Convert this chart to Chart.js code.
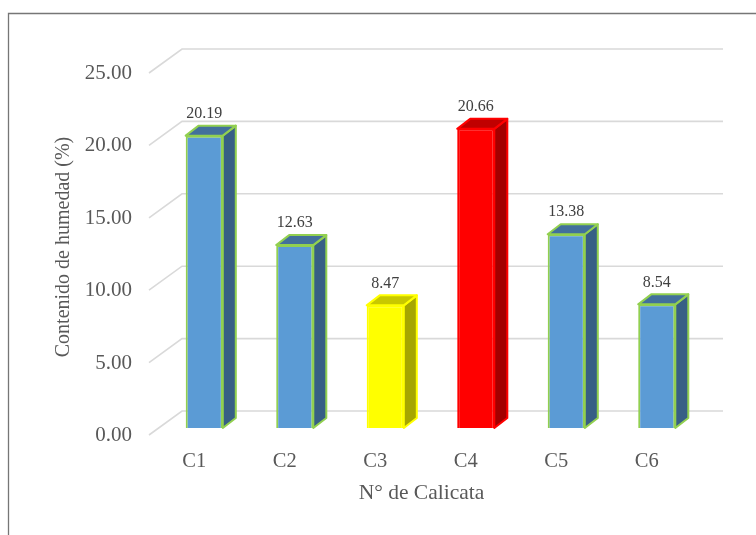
<!DOCTYPE html>
<html>
<head>
<meta charset="utf-8">
<script src="https://cdn.jsdelivr.net/npm/chart.js@4.4.1/dist/chart.umd.min.js"></script>
<style>
  html, body { margin: 0; padding: 0; background: #fff; }
  canvas { display: block; }
</style>
</head>
<body>
<canvas id="humChart" width="756" height="535"></canvas>
<script>
// Contenido de humedad por calicata
const categories = ['C1', 'C2', 'C3', 'C4', 'C5', 'C6'];
const humedad = [20.19, 12.63, 8.47, 20.66, 13.38, 8.54];

const yTicks = { min: 0, max: 25, step: 5 };

// front / side / top / outline colours per bar
const frontColors = ['#5B9BD5', '#5B9BD5', '#FFFF00', '#FF0000', '#5B9BD5', '#5B9BD5'];
const sideColors = ['#375F85', '#375F85', '#A6A600', '#A30000', '#375F85', '#375F85'];
const topColors = ['#42709C', '#42709C', '#C8C800', '#C00000', '#42709C', '#42709C'];
const edgeColors = ['#92D050', '#92D050', '#FFFF00', '#FF0000', '#92D050', '#92D050'];

const DX = 13, DY = 10; // bar depth

const serif = '"Liberation Serif", "Times New Roman", serif';
const grey = '#595959';
const xTitle = 'N° de Calicata';

// outer frame (top and left edge only) + x axis title
const framePlugin = {
  id: 'frame',
  afterDraw(chart) {
    const ctx = chart.ctx;
    const area = chart.chartArea;
    ctx.save();
    ctx.strokeStyle = '#767676';
    ctx.lineWidth = 1.3;
    ctx.beginPath();
    ctx.moveTo(8.5, chart.height);
    ctx.lineTo(8.5, 13.5);
    ctx.lineTo(chart.width, 13.5);
    ctx.stroke();

    ctx.fillStyle = grey;
    ctx.font = '21.5px ' + serif;
    ctx.textAlign = 'center';
    ctx.textBaseline = 'middle';
    ctx.fillText(xTitle, (area.left + area.right) / 2 - 9, area.bottom + 65);
    ctx.restore();
  }
};

// floor/back wall gridlines in perspective
const gridPlugin = {
  id: 'grid3d',
  beforeDatasetsDraw(chart) {
    const ctx = chart.ctx;
    const y = chart.scales.y;
    const area = chart.chartArea;
    ctx.save();
    ctx.strokeStyle = '#D9D9D9';
    ctx.lineWidth = 1.6;
    y.ticks.forEach(t => {
      const py = y.getPixelForValue(t.value);
      ctx.beginPath();
      ctx.moveTo(area.left - 10, py + 7);
      ctx.lineTo(area.left + 23, py - 17);
      ctx.lineTo(area.right + 21, py - 17);
      ctx.stroke();
    });
    ctx.restore();
  }
};

// side + top faces and value labels
const barPlugin = {
  id: 'bar3d',
  afterDatasetsDraw(chart) {
    const ctx = chart.ctx;
    const meta = chart.getDatasetMeta(0);
    ctx.save();
    meta.data.forEach((bar, i) => {
      const p = bar.getProps(['x', 'y', 'base', 'width'], true);
      const l = p.x - p.width / 2, r = p.x + p.width / 2;
      const top = p.y, base = p.base;
      ctx.lineWidth = 2;
      ctx.lineJoin = 'round';
      ctx.strokeStyle = edgeColors[i];

      ctx.beginPath();
      ctx.moveTo(r, top);
      ctx.lineTo(r + DX, top - DY);
      ctx.lineTo(r + DX, base - DY);
      ctx.lineTo(r, base);
      ctx.closePath();
      ctx.fillStyle = sideColors[i];
      ctx.fill();
      ctx.stroke();

      ctx.beginPath();
      ctx.moveTo(l, top);
      ctx.lineTo(l + DX, top - DY);
      ctx.lineTo(r + DX, top - DY);
      ctx.lineTo(r, top);
      ctx.closePath();
      ctx.fillStyle = topColors[i];
      ctx.fill();
      ctx.stroke();

      ctx.fillStyle = '#404040';
      ctx.font = '16px ' + serif;
      ctx.textAlign = 'center';
      ctx.textBaseline = 'bottom';
      ctx.fillText(humedad[i].toFixed(2), p.x, top - DY - 4);
    });
    ctx.restore();
  }
};

new Chart(document.getElementById('humChart'), {
  type: 'bar',
  data: {
    labels: categories,
    datasets: [{
      data: humedad,
      backgroundColor: frontColors,
      borderColor: edgeColors,
      borderWidth: 2,
      categoryPercentage: 1,
      barPercentage: 0.41
    }]
  },
  options: {
    responsive: false,
    animation: false,
    devicePixelRatio: 1,
    layout: { padding: { left: 52, right: 54, top: 66, bottom: 0 } },
    plugins: { legend: { display: false }, tooltip: { enabled: false } },
    scales: {
      x: {
        grid: { display: false, drawTicks: false },
        border: { display: false },
        ticks: { color: grey, font: { family: serif, size: 20.5 }, padding: 21, labelOffset: -10 },
        afterFit(scale) { scale.height = 107; }
      },
      y: {
        min: yTicks.min, max: yTicks.max,
        grid: { display: false, drawTicks: false },
        border: { display: false },
        ticks: {
          stepSize: yTicks.step, color: grey, padding: 27, labelOffset: 7.5,
          font: { family: serif, size: 21 },
          callback: v => v.toFixed(2)
        },
        title: {
          display: true, text: 'Contenido de humedad (%)', color: grey,
          font: { family: serif, size: 20, lineHeight: 1.2 },
          padding: { top: 0, bottom: 0 }
        },
        afterFit(scale) { scale.width = 159 - 52; }
      }
    }
  },
  plugins: [framePlugin, gridPlugin, barPlugin]
});
</script>
</body>
</html>
